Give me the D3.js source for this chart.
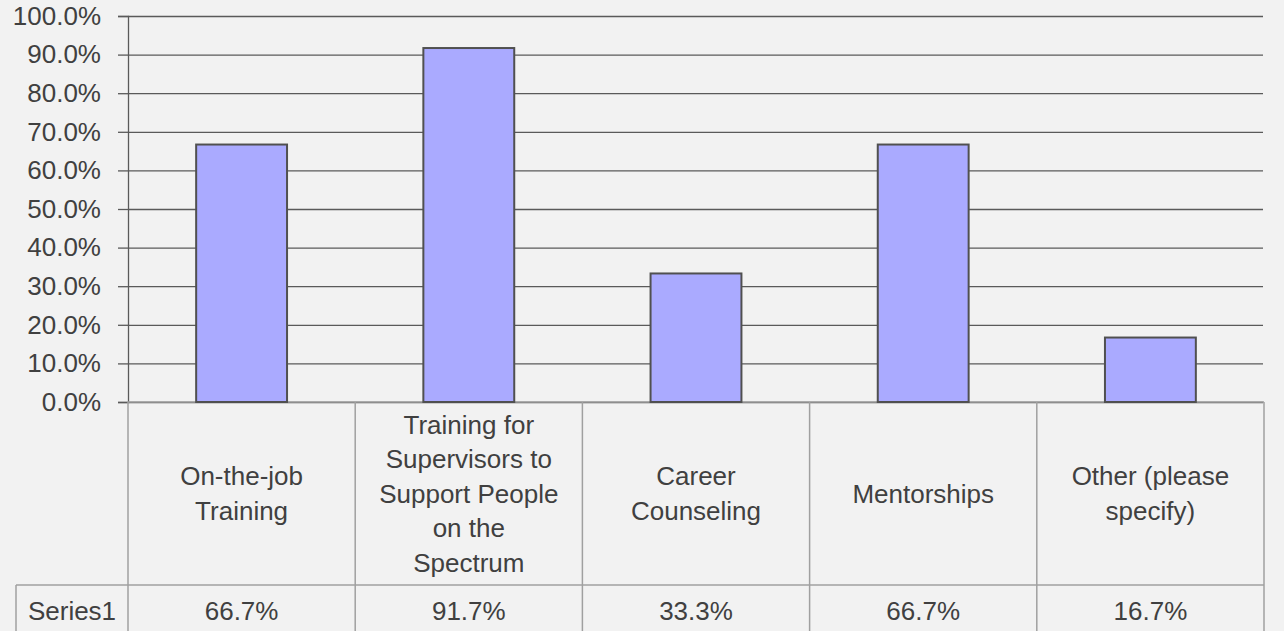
<!DOCTYPE html>
<html lang="en">
  <head>
    <meta charset="UTF-8" />
    <title>Series1 bar chart</title>
    <script src="https://d3js.org/d3.v7.min.js" charset="utf-8"></script>
    <style>
      body { margin: 0; background: #f2f2f2; }
      text { font-family: "Liberation Sans", Arial, sans-serif; fill: #404040; }
    </style>
  </head>
  <body>
    <div id="chart"></div>
    <script>
      const categories = [
        ["On-the-job", "Training"],
        ["Training for", "Supervisors to", "Support People", "on the", "Spectrum"],
        ["Career", "Counseling"],
        ["Mentorships"],
        ["Other (please", "specify)"]
      ];
      const values = [0.667, 0.917, 0.333, 0.667, 0.167];
      const seriesName = "Series1";
      const yTicks = [0, 0.1, 0.2, 0.3, 0.4, 0.5, 0.6, 0.7, 0.8, 0.9, 1.0];

      const width = 1284;
      const height = 631;
      const plotLeft = 128, plotRight = 1264, plotTop = 16, plotBottom = 402;
      const rowTop = 585;
      const fontSize = 26;

      const svg = d3.select("#chart").append("svg")
        .attr("width", width)
        .attr("height", height)
        .style("background", "#f2f2f2");

      const x = d3.scaleBand()
        .domain(d3.range(values.length))
        .range([plotLeft, plotRight]);

      const y = d3.scaleLinear()
        .domain([0, 1])
        .range([plotBottom, plotTop]);

      // gridlines
      svg.append("g")
        .attr("transform", "translate(" + plotLeft + ",0)")
        .call(d3.axisRight(y).tickValues(yTicks).tickSize(plotRight - plotLeft - 1).tickFormat(""))
        .call(g => g.select(".domain").remove())
        .call(g => g.selectAll("line").attr("stroke", "#5a5a5a").attr("stroke-width", 1.3));

      // y axis
      svg.append("g")
        .attr("transform", "translate(" + plotLeft + ",0)")
        .call(d3.axisLeft(y).tickValues(yTicks).tickSize(10).tickPadding(17)
          .tickFormat(d3.format(".1%")))
        .call(g => g.select(".domain").attr("stroke", "#5a5a5a").attr("stroke-width", 1.3))
        .call(g => g.selectAll("line").attr("stroke", "#5a5a5a").attr("stroke-width", 1.3))
        .call(g => g.selectAll("text")
          .style("font-size", fontSize + "px")
          .style("font-family", '"Liberation Sans", Arial, sans-serif')
          .attr("fill", "#404040"));

      // data table
      const tableColor = "#a0a0a0";
      const table = svg.append("g");
      table.append("line")
        .attr("x1", plotLeft).attr("x2", plotRight).attr("y1", plotBottom).attr("y2", plotBottom)
        .attr("stroke", tableColor).attr("stroke-width", 1.5);
      table.append("line")
        .attr("x1", 16).attr("x2", plotRight).attr("y1", rowTop).attr("y2", rowTop)
        .attr("stroke", tableColor).attr("stroke-width", 1.5);
      table.append("line")
        .attr("x1", 16).attr("x2", 16).attr("y1", rowTop).attr("y2", height)
        .attr("stroke", tableColor).attr("stroke-width", 1.5);
      table.selectAll("line.sep")
        .data(d3.range(values.length + 1))
        .join("line")
        .attr("class", "sep")
        .attr("x1", i => i < values.length ? x(i) : plotRight)
        .attr("x2", i => i < values.length ? x(i) : plotRight)
        .attr("y1", plotBottom)
        .attr("y2", height)
        .attr("stroke", tableColor)
        .attr("stroke-width", 1.5);

      // category labels
      const lineH = 34.5;
      const midY = (plotBottom + rowTop) / 2;
      table.selectAll("text.cat")
        .data(categories)
        .join("text")
        .attr("class", "cat")
        .attr("text-anchor", "middle")
        .style("font-size", fontSize + "px")
        .each(function(lines, i) {
          const t = d3.select(this);
          const y0 = midY - (lines.length - 1) * lineH / 2;
          lines.forEach((ln, j) => {
            t.append("tspan")
              .attr("x", x(i) + x.bandwidth() / 2)
              .attr("y", y0 + j * lineH)
              .attr("dy", "0.35em")
              .text(ln);
          });
        });

      // values row
      table.append("text")
        .attr("x", 72)
        .attr("y", 611)
        .attr("dy", "0.35em")
        .attr("text-anchor", "middle")
        .style("font-size", fontSize + "px")
        .text(seriesName);
      table.selectAll("text.val")
        .data(values)
        .join("text")
        .attr("class", "val")
        .attr("x", (d, i) => x(i) + x.bandwidth() / 2)
        .attr("y", 611)
        .attr("dy", "0.35em")
        .attr("text-anchor", "middle")
        .style("font-size", fontSize + "px")
        .text(d => d3.format(".1%")(d));

      // bars
      const barW = x.bandwidth() * 0.4;
      svg.append("g")
        .selectAll("rect")
        .data(values)
        .join("rect")
        .attr("x", (d, i) => x(i) + (x.bandwidth() - barW) / 2)
        .attr("y", d => y(d))
        .attr("width", barW)
        .attr("height", d => y(0) - y(d))
        .attr("fill", "#aaaaff")
        .attr("stroke", "#505050")
        .attr("stroke-width", 2);
    </script>
  </body>
</html>
